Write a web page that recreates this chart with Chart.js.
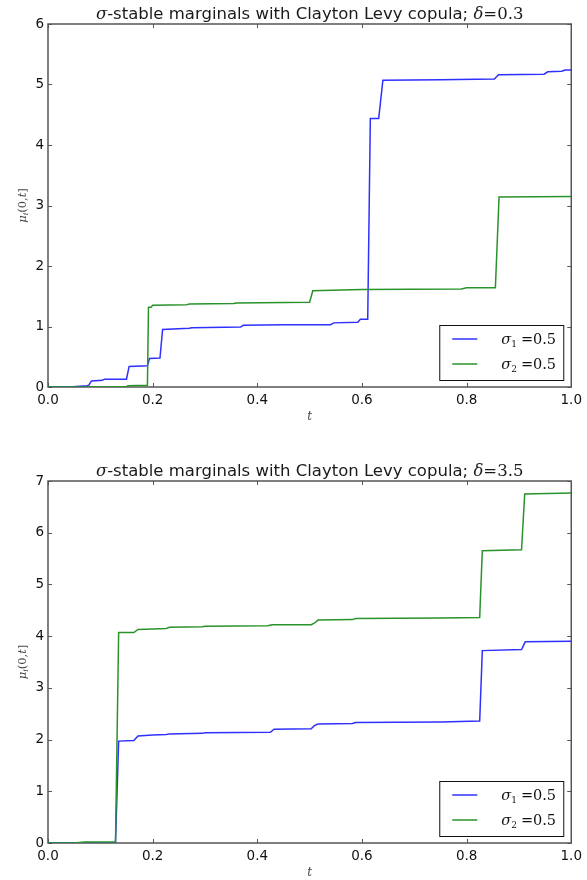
<!DOCTYPE html>
<html>
<head>
<meta charset="utf-8">
<script src="https://cdn.jsdelivr.net/npm/chart.js@4.4.0/dist/chart.umd.min.js"></script>
<style>
  body { margin: 0; background: #fff; }
  .panel { position: absolute; left: 0; width: 587px; height: 440px; }
</style>
</head>
<body>
<div class="panel" style="top:0"><canvas id="chartTop" width="587" height="440"></canvas></div>
<div class="panel" style="top:440px"><canvas id="chartBottom" width="587" height="440"></canvas></div>
<script>
// values
const tBlueTop = [0, 0.04, 0.075, 0.078, 0.083, 0.104, 0.108, 0.150, 0.155, 0.190, 0.194, 0.214, 0.219, 0.270, 0.275, 0.368, 0.373, 0.45, 0.540, 0.546, 0.592, 0.597, 0.611, 0.616, 0.632, 0.640, 0.75, 0.853, 0.861, 0.948, 0.955, 0.982, 0.988, 1.0];
const muBlueTop = [0, 0, 0.02, 0.03, 0.10, 0.11, 0.13, 0.13, 0.34, 0.35, 0.47, 0.48, 0.95, 0.97, 0.98, 0.99, 1.02, 1.03, 1.03, 1.06, 1.07, 1.12, 1.12, 4.44, 4.44, 5.07, 5.08, 5.09, 5.16, 5.17, 5.21, 5.22, 5.24, 5.24];
const tGreenTop = [0, 0.10, 0.150, 0.153, 0.190, 0.192, 0.197, 0.200, 0.265, 0.270, 0.355, 0.360, 0.500, 0.506, 0.60, 0.79, 0.80, 0.855, 0.862, 1.0];
const muGreenTop = [0, 0, 0.01, 0.02, 0.03, 1.32, 1.32, 1.35, 1.36, 1.37, 1.38, 1.39, 1.40, 1.59, 1.61, 1.62, 1.64, 1.64, 3.14, 3.15];

const tBlueBottom = [0, 0.129, 0.135, 0.164, 0.172, 0.200, 0.226, 0.232, 0.295, 0.300, 0.425, 0.432, 0.503, 0.509, 0.516, 0.582, 0.588, 0.75, 0.825, 0.830, 0.905, 0.912, 1.0];
const muBlueBottom = [0, 0.01, 1.97, 1.98, 2.07, 2.09, 2.10, 2.11, 2.12, 2.13, 2.14, 2.20, 2.21, 2.27, 2.30, 2.31, 2.33, 2.34, 2.36, 3.72, 3.74, 3.89, 3.90];
const tGreenBottom = [0, 0.05, 0.07, 0.129, 0.135, 0.164, 0.172, 0.200, 0.226, 0.232, 0.295, 0.300, 0.420, 0.428, 0.503, 0.509, 0.516, 0.582, 0.588, 0.75, 0.825, 0.830, 0.905, 0.911, 1.0];
const muGreenBottom = [0, 0, 0.02, 0.02, 4.07, 4.07, 4.13, 4.14, 4.15, 4.17, 4.18, 4.19, 4.20, 4.22, 4.22, 4.25, 4.31, 4.32, 4.34, 4.35, 4.36, 5.65, 5.67, 6.75, 6.77];

const xTicks = [0, 0.2, 0.4, 0.6, 0.8, 1.0];
const yTicksTop = [0, 1, 2, 3, 4, 5, 6];
const yTicksBottom = [0, 1, 2, 3, 4, 5, 6, 7];
const sigmaValues = ['0.5', '0.5'];
const deltaValues = ['0.3', '3.5'];

const BLUE = '#2f2fff';
const GREEN = '#2a922a';
const SERIF = '"DejaVu Serif"';
const SANS = '"DejaVu Sans"';

function partsWidth(ctx, parts) {
    let w = 0;
    for (const p of parts) {
        ctx.font = p.font;
        w += ctx.measureText(p.text).width + (p.gap || 0);
    }
    return w;
}

function drawParts(ctx, parts, x, y) {
    let cx = x;
    for (const p of parts) {
        ctx.font = p.font;
        ctx.fillText(p.text, cx, y + (p.dy || 0));
        cx += ctx.measureText(p.text).width + (p.gap || 0);
    }
}

function toPoints(ts, vs) {
    return ts.map((t, i) => ({ x: t, y: vs[i] }));
}

function framePlugin(delta) {
    return {
        id: 'mplFrame',
        beforeDatasetsDraw(chart) {
            const { ctx, chartArea: a } = chart;
            const xs = chart.scales.x, ys = chart.scales.y;
            ctx.save();
            ctx.strokeStyle = '#555';
            ctx.lineWidth = 1;
            ctx.beginPath();
            xs.ticks.forEach(tk => {
                const px = Math.round(xs.getPixelForValue(tk.value)) + 0.5;
                ctx.moveTo(px, a.bottom); ctx.lineTo(px, a.bottom - 4);
                ctx.moveTo(px, a.top); ctx.lineTo(px, a.top + 4);
            });
            ys.ticks.forEach(tk => {
                const py = Math.round(ys.getPixelForValue(tk.value)) + 0.5;
                ctx.moveTo(a.left, py); ctx.lineTo(a.left + 4, py);
                ctx.moveTo(a.right, py); ctx.lineTo(a.right - 4, py);
            });
            ctx.stroke();
            ctx.lineWidth = 1.5;
            ctx.strokeRect(a.left, a.top, a.right - a.left, a.bottom - a.top);
            ctx.restore();
        },
        afterDraw(chart) {
            const { ctx, chartArea: a } = chart;
            ctx.save();
            ctx.fillStyle = '#1a1a1a';
            ctx.textBaseline = 'alphabetic';

            // title
            const title = [
                { text: 'σ', font: 'italic 16.5px ' + SERIF },
                { text: '-stable marginals with Clayton Levy copula; ', font: '16.5px ' + SANS },
                { text: 'δ', font: 'italic 16.5px ' + SERIF },
                { text: '=' + delta, font: '16.5px ' + SERIF }
            ];
            const tw = partsWidth(ctx, title);
            drawParts(ctx, title, (a.left + a.right) / 2 - tw / 2, a.top - 5);

            // x axis label
            ctx.fillStyle = '#444';
            const xl = [{ text: 't', font: 'italic 12px ' + SERIF }];
            const xw = partsWidth(ctx, xl);
            drawParts(ctx, xl, (a.left + a.right) / 2 - xw / 2, a.bottom + 33);

            // y axis label
            const yl = [
                { text: 'μ', font: 'italic 11.5px ' + SERIF },
                { text: 'i', font: 'italic 8px ' + SERIF, dy: 2 },
                { text: '(0,', font: '11.5px ' + SERIF },
                { text: 't', font: 'italic 11.5px ' + SERIF },
                { text: ']', font: '11.5px ' + SERIF }
            ];
            const yw = partsWidth(ctx, yl);
            ctx.save();
            ctx.translate(26, (a.top + a.bottom) / 2);
            ctx.rotate(-Math.PI / 2);
            drawParts(ctx, yl, -yw / 2, 0);
            ctx.restore();

            // legend box in the lower right corner
            const bw = 124, bh = 55;
            const bx = a.right - 8 - bw, by = a.bottom - 7 - bh;
            ctx.fillStyle = '#fff';
            ctx.fillRect(bx, by, bw, bh);
            ctx.strokeStyle = '#111';
            ctx.lineWidth = 1;
            ctx.strokeRect(bx + 0.5, by + 0.5, bw, bh);
            chart.data.datasets.forEach((ds, i) => {
                const ly = by + 14 + i * 25;
                ctx.strokeStyle = ds.borderColor;
                ctx.lineWidth = 1.5;
                ctx.beginPath();
                ctx.moveTo(bx + 13, ly);
                ctx.lineTo(bx + 38, ly);
                ctx.stroke();
                ctx.fillStyle = '#111';
                drawParts(ctx, [
                    { text: 'σ', font: 'italic 14.5px ' + SERIF },
                    { text: String(i + 1), font: '9px ' + SERIF, dy: 3, gap: 4 },
                    { text: '=' + sigmaValues[i], font: '14.5px ' + SERIF }
                ], bx + 62, ly + 5);
            });
            ctx.restore();
        }
    };
}

function makeChart(id, blue, green, yTicks, yMax, delta, padTop, xHeight) {
    const ctx = document.getElementById(id).getContext('2d');
    return new Chart(ctx, {
        type: 'line',
        data: {
            datasets: [
                { label: 'σ1 = ' + sigmaValues[0], data: blue, borderColor: BLUE, order: 1 },
                { label: 'σ2 = ' + sigmaValues[1], data: green, borderColor: GREEN, order: 0 }
            ]
        },
        options: {
            responsive: false,
            animation: false,
            layout: { padding: { top: padTop, right: 12, left: 0, bottom: 0 } },
            elements: {
                line: { borderWidth: 1.5, tension: 0, fill: false },
                point: { radius: 0 }
            },
            plugins: {
                legend: { display: false },
                title: { display: false },
                tooltip: { enabled: false }
            },
            scales: {
                x: {
                    type: 'linear',
                    min: 0, max: 1,
                    afterBuildTicks: s => { s.ticks = xTicks.map(v => ({ value: v })); },
                    afterFit: s => { s.height = xHeight; },
                    grid: { display: false, drawTicks: false },
                    border: { display: false },
                    ticks: {
                        padding: 5,
                        color: '#111',
                        font: { family: 'DejaVu Sans', size: 13.5 },
                        maxRotation: 0,
                        callback: v => v.toFixed(1)
                    }
                },
                y: {
                    type: 'linear',
                    min: 0, max: yMax,
                    afterBuildTicks: s => { s.ticks = yTicks.map(v => ({ value: v })); },
                    afterFit: s => { s.width = 48; },
                    grid: { display: false, drawTicks: false },
                    border: { display: false },
                    ticks: {
                        padding: 4,
                        color: '#111',
                        font: { family: 'DejaVu Sans', size: 13.5 },
                        callback: v => String(v)
                    }
                }
            }
        },
        plugins: [framePlugin(delta)]
    });
}

makeChart('chartTop', toPoints(tBlueTop, muBlueTop), toPoints(tGreenTop, muGreenTop),
    yTicksTop, 6, deltaValues[0], 24, 53);
makeChart('chartBottom', toPoints(tBlueBottom, muBlueBottom), toPoints(tGreenBottom, muGreenBottom),
    yTicksBottom, 7, deltaValues[1], 41, 37);
</script>
</body>
</html>
